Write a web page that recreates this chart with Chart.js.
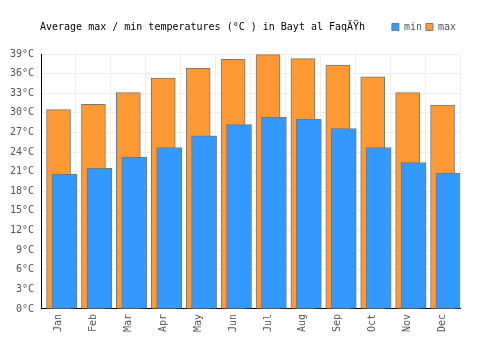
<!DOCTYPE html>
<html>
<head>
<meta charset="utf-8">
<script src="https://cdn.jsdelivr.net/npm/chart.js@4"></script>
<style>
  body { margin: 0; background: #fff; }
  .wrap { position: relative; width: 500px; height: 350px; }
  .title {
    position: absolute; left: 40px; top: 21px;
    font: 10px "DejaVu Sans Mono", monospace; color: #000;
    white-space: pre;
  }
</style>
</head>
<body>
<div class="wrap">
  <div class="title">Average max / min temperatures (°C ) in Bayt al FaqÄŸh</div>
  <canvas id="tempChart" width="500" height="350"></canvas>
</div>
<script>
// data
const months = ["Jan", "Feb", "Mar", "Apr", "May", "Jun", "Jul", "Aug", "Sep", "Oct", "Nov", "Dec"];
const minTemps = [20.6, 21.5, 23.2, 24.7, 26.5, 28.2, 29.3, 29.0, 27.6, 24.7, 22.4, 20.8];
const maxTemps = [30.5, 31.3, 33.1, 35.3, 36.8, 38.2, 38.9, 38.3, 37.3, 35.5, 33.1, 31.2];

// the min bars sit a bit right of the category centre
const minShift = 0.17;

const monoFont = { family: "'DejaVu Sans Mono', monospace", size: 10 };

// extra space under the legend
const legendGap = {
  id: "legendGap",
  beforeInit(chart) {
    const fit = chart.legend.fit;
    chart.legend.fit = function () {
      fit.bind(chart.legend)();
      this.height += 12;
    };
  },
};

new Chart(document.getElementById("tempChart"), {
  type: "bar",
  data: {
    labels: months,
    datasets: [
      {
        label: "min",
        data: minTemps.map((v, i) => ({ x: i + minShift, y: v })),
        xAxisID: "x2",
        backgroundColor: "#3399ff",
        borderColor: "#777",
        borderWidth: 1,
        barThickness: 25,
        grouped: false,
      },
      {
        label: "max",
        data: maxTemps,
        xAxisID: "x",
        backgroundColor: "#ff9933",
        borderColor: "#777",
        borderWidth: 1,
        barThickness: 24,
        grouped: false,
      },
    ],
  },
  options: {
    responsive: false,
    animation: false,
    layout: { padding: { top: 18, left: 3, right: 40, bottom: 13 } },
    plugins: {
      tooltip: { enabled: false },
      legend: {
        position: "top",
        align: "end",
        labels: {
          boxWidth: 7,
          boxHeight: 7,
          padding: 4,
          color: "#555",
          font: monoFont,
        },
      },
    },
    scales: {
      x: {
        type: "category",
        offset: true,
        grid: { color: "#eee", drawTicks: false },
        border: { color: "#000" },
        ticks: { color: "#555", font: monoFont, minRotation: 90, maxRotation: 90, padding: 5 },
      },
      x2: {
        type: "linear",
        display: false,
        offset: false,
        min: -0.5,
        max: 11.5,
      },
      y: {
        min: 0,
        max: 39,
        grid: { color: "#eee", drawTicks: false },
        border: { color: "#000" },
        ticks: {
          stepSize: 3,
          color: "#555",
          font: monoFont,
          padding: 7,
          callback: (v) => v + "°C",
        },
      },
    },
  },
  plugins: [legendGap],
});
</script>
</body>
</html>
